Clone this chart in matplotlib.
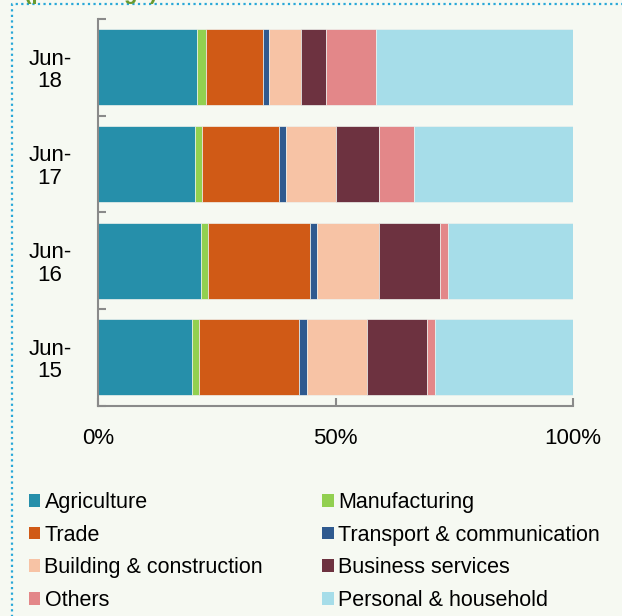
import matplotlib
matplotlib.use("Agg")
import matplotlib.pyplot as plt
import numpy as np
from matplotlib.lines import Line2D
from matplotlib.patches import Patch

plt.rcParams["font.family"] = ["Liberation Sans", "DejaVu Sans"]

# Loans by sector, share of total (%), bottom row first
PERIODS = ["Jun-\n15", "Jun-\n16", "Jun-\n17", "Jun-\n18"]

SECTORS = [
    "Agriculture",
    "Manufacturing",
    "Trade",
    "Transport & communication",
    "Building & construction",
    "Business services",
    "Others",
    "Personal & household",
]

agriculture = [19.8, 21.7, 20.5, 20.8]
manufacturing = [1.5, 1.5, 1.3, 1.9]
trade = [21.1, 21.5, 16.4, 12.0]
transport = [1.5, 1.3, 1.4, 1.3]
building = [12.8, 13.1, 10.4, 6.8]
business = [12.6, 12.8, 9.2, 5.3]
others = [1.6, 1.8, 7.3, 10.4]
personal = [29.1, 26.3, 33.5, 41.5]

COLORS = [
    "#268FAA",
    "#92D050",
    "#D05A16",
    "#2F5A8F",
    "#F7C3A5",
    "#6D3240",
    "#E38789",
    "#A6DDE9",
]

BG = "#F6F9F2"
AXIS_GREY = "#8A8A8A"

series = [agriculture, manufacturing, trade, transport,
          building, business, others, personal]

fig = plt.figure(figsize=(6.22, 6.16), dpi=100, facecolor=BG)
ax = fig.add_axes([98 / 622, 1 - 405.5 / 616, 475 / 622, 386.5 / 616])
ax.set_facecolor(BG)

y = np.arange(len(PERIODS))
left = np.zeros(len(PERIODS))
for name, values, color in zip(SECTORS, series, COLORS):
    values = np.array(values)
    ax.barh(y, values, left=left, height=0.787, color=color,
            edgecolor="#EEF2EE", linewidth=0.5, label=name)
    left += values

ax.set_xlim(0, 100)
ax.set_ylim(-0.5, len(PERIODS) - 0.5)

ax.set_xticks([0, 50, 100])
ax.set_xticklabels(["0%", "50%", "100%"])
ax.set_yticks(y)
ax.set_yticklabels(PERIODS, linespacing=1.1)
for lbl in ax.get_yticklabels():
    lbl.set_multialignment("center")
ax.set_yticks(np.arange(-0.5, len(PERIODS)), minor=True)

ax.tick_params(axis="x", direction="in", length=6, width=1.5,
               color=AXIS_GREY, labelsize=16, pad=16)
ax.tick_params(axis="y", which="major", length=0, labelsize=16, pad=19)
ax.tick_params(axis="y", which="minor", direction="in", length=6,
               width=1.5, color=AXIS_GREY)

for side in ["top", "right"]:
    ax.spines[side].set_visible(False)
for side in ["left", "bottom"]:
    ax.spines[side].set_color(AXIS_GREY)
    ax.spines[side].set_linewidth(1.5)

# legend is filled column by column, so order handles to read row by row
order = [0, 2, 4, 6, 1, 3, 5, 7]
handles = [Patch(facecolor=COLORS[i], edgecolor="none") for i in order]
labels = [SECTORS[i] for i in order]
fig.legend(handles, labels, ncol=2, loc="upper left",
           bbox_to_anchor=(29 / 622, 1 - 492 / 616), frameon=False,
           fontsize=15.5, handlelength=0.52, handleheight=0.52,
           handletextpad=0.2, columnspacing=2.75, labelspacing=0.54,
           borderaxespad=0, borderpad=0)

# dotted frame around the panel
fig.add_artist(Line2D([12 / 622, 12 / 622, 1.02], [-0.02, 1 - 4 / 616, 1 - 4 / 616],
                      transform=fig.transFigure, color="#29A8D8",
                      linestyle=(0, (1, 1.5)), linewidth=1.6))

# panel heading sits above the visible area
fig.text(-252 / 622, 1 + 1 / 616,
         "Figure 4: Loans by sector (percentage)",
         color="#6A9A2F", fontsize=16, fontweight="bold", va="baseline")

fig.savefig("out.png", dpi=100, facecolor=BG)
